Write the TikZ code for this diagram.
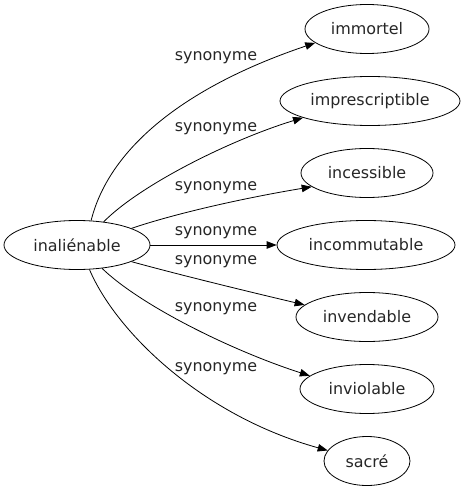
\documentclass[tikz,border=0pt]{standalone}
\usepackage{fontspec}
\setmainfont{DejaVu Sans}
\usetikzlibrary{shapes.geometric,arrows.meta}
\tikzset{
  word/.style={ellipse,draw,line width=0.8bp,inner sep=0pt,minimum height=49bp,text=black!85,font=\fontsize{16}{19}\selectfont},
  rel/.style={line width=0.8bp,-{Triangle[length=10bp,width=7.5bp]}},
  lab/.style={font=\fontsize{16}{19}\selectfont,text=black!85,inner sep=0pt}
}
\begin{document}
\begin{tikzpicture}[x=1bp,y=-1bp]
\useasboundingbox (0,0) rectangle (465,491);
\node[word,minimum width=146bp] (src) at (77,245) {inaliénable};
\node[word,minimum width=124bp] (t1) at (367,29) {immortel};
\node[word,minimum width=180bp] (t2) at (370,101) {imprescriptible};
\node[word,minimum width=132bp] (t3) at (367,173) {incessible};
\node[word,minimum width=178bp] (t4) at (366,245) {incommutable};
\node[word,minimum width=142bp] (t5) at (367,317) {invendable};
\node[word,minimum width=134bp] (t6) at (367,389) {inviolable};
\node[word,minimum width=86bp] (t7) at (367,461) {sacré};
\draw[rel] (src.60) .. controls (110,145) and (190,85) .. (t1.195);
\draw[rel] (src.41) .. controls (140,185) and (230,140) .. (t2.194);
\draw[rel] (src.17) .. controls (180,212) and (250,197) .. (t3.194);
\draw[rel] (src.0) -- (t4.180);
\draw[rel] (src.-17) .. controls (180,275) and (250,292) .. (t5.169);
\draw[rel] (src.-43) .. controls (140,305) and (230,350) .. (t6.167);
\draw[rel] (src.-63) .. controls (115,330) and (200,415) .. (t7.165);
\node[lab] (l1) at (216,58) {synonyme};
\node[lab] (l2) at (216,129) {synonyme};
\node[lab] (l3) at (216,188) {synonyme};
\node[lab] (l4) at (216,233) {synonyme};
\node[lab] (l5) at (216,262) {synonyme};
\node[lab] (l6) at (216,309) {synonyme};
\node[lab] (l7) at (216,369) {synonyme};
\end{tikzpicture}
\end{document}
